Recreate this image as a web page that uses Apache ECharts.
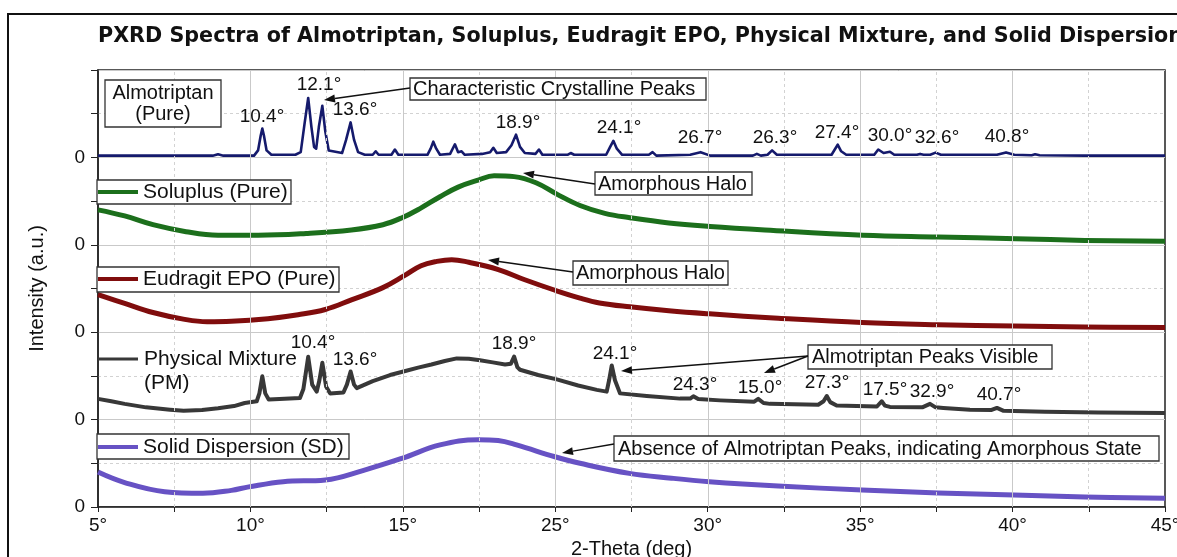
<!DOCTYPE html>
<html>
<head>
<meta charset="utf-8">
<script src="https://cdn.jsdelivr.net/npm/echarts@6/dist/echarts.min.js"></script>
<style>
  html, body { margin: 0; padding: 0; background: #fff; }
  #chart { width: 1177px; height: 557px; }
</style>
</head>
<body>
<div id="chart"></div>
<script>
// tick labels of the 2-theta axis, as printed on the figure (8 ticks, 7 steps)
const xTickLabels = ['5°', '10°', '15°', '25°', '30°', '35°', '40°', '45°'];

// traces: [2-theta, intensity inside its own panel]
const almotriptan = [
  [5, 0.02], [7, 0.02], [9.3, 0.02], [9.5, 0.035], [9.7, 0.02],
  [10.85, 0.02], [11.0, 0.08], [11.1, 0.25], [11.16, 0.33], [11.22, 0.25], [11.32, 0.08], [11.5, 0.03],
  [12.4, 0.03], [12.6, 0.06], [12.75, 0.4], [12.88, 0.68], [13.0, 0.35], [13.1, 0.12], [13.18, 0.1],
  [13.28, 0.35], [13.41, 0.59], [13.52, 0.3], [13.65, 0.08],
  [14.15, 0.05], [14.3, 0.2], [14.47, 0.4], [14.6, 0.2], [14.75, 0.06], [15.0, 0.03],
  [15.3, 0.03], [15.41, 0.07], [15.52, 0.03],
  [16.0, 0.03], [16.13, 0.09], [16.26, 0.03],
  [17.35, 0.03], [17.47, 0.1], [17.57, 0.18], [17.68, 0.1], [17.82, 0.03],
  [18.2, 0.04], [18.38, 0.15], [18.5, 0.06], [18.63, 0.07], [18.75, 0.03],
  [19.4, 0.04], [19.7, 0.06], [19.82, 0.11], [19.95, 0.05], [20.3, 0.06], [20.5, 0.14],
  [20.67, 0.26], [20.82, 0.12], [21.0, 0.05],
  [21.4, 0.04], [21.53, 0.09], [21.66, 0.03],
  [22.6, 0.03], [22.72, 0.05], [22.85, 0.03],
  [24.05, 0.03], [24.2, 0.12], [24.32, 0.19], [24.45, 0.1], [24.65, 0.03],
  [25.65, 0.03], [25.79, 0.06], [25.93, 0.02],
  [27.2, 0.03], [27.59, 0.06], [27.95, 0.02],
  [29.55, 0.02], [29.7, 0.04], [29.85, 0.02],
  [30.1, 0.03], [30.27, 0.08], [30.45, 0.03],
  [32.5, 0.03], [32.62, 0.09], [32.73, 0.145], [32.86, 0.07], [33.05, 0.03],
  [34.1, 0.03], [34.25, 0.09], [34.45, 0.05], [34.69, 0.065], [34.85, 0.03],
  [35.7, 0.03], [35.82, 0.04], [35.95, 0.03],
  [36.2, 0.03], [36.4, 0.055], [36.6, 0.03],
  [38.7, 0.03], [39.04, 0.057], [39.35, 0.03],
  [40.0, 0.025], [40.13, 0.035], [40.3, 0.025],
  [42, 0.02], [45, 0.02]
];

const soluplus = [
  [5, 0.40], [6, 0.33], [7.06, 0.23], [8.3, 0.15], [9.5, 0.11], [11, 0.11], [12.8, 0.13],
  [14.5, 0.17], [15.68, 0.23], [16.4, 0.31], [17.1, 0.42], [17.82, 0.55], [18.5, 0.66],
  [19.25, 0.74], [19.85, 0.79], [20.6, 0.78], [21.42, 0.71], [22.2, 0.58], [23.07, 0.45],
  [24.0, 0.36], [24.94, 0.31], [26.4, 0.25], [27.94, 0.21], [30, 0.17], [33.68, 0.11],
  [36.5, 0.09], [39.41, 0.07], [42, 0.05], [45, 0.04]
];

const eudragit = [
  [5, 0.43], [6, 0.33], [7.06, 0.225], [8.2, 0.15], [9.09, 0.12], [10, 0.125], [11.37, 0.155],
  [12.5, 0.2], [13.52, 0.26], [14.5, 0.37], [15.68, 0.51], [16.5, 0.65], [17.11, 0.76],
  [17.7, 0.81], [18.26, 0.83], [18.9, 0.80], [19.98, 0.72], [21, 0.60], [22.13, 0.48],
  [23.07, 0.39], [23.8, 0.335], [24.94, 0.29], [26.4, 0.245], [27.92, 0.21], [30.5, 0.16],
  [33.64, 0.11], [36.5, 0.085], [39.34, 0.07], [42, 0.06], [45, 0.054]
];

const physicalMixture = [
  [5, 0.237], [5.5, 0.21], [6, 0.18], [6.8, 0.14], [7.7, 0.114], [8.21, 0.10], [8.9, 0.11],
  [9.5, 0.13], [10.1, 0.155], [10.5, 0.19], [10.95, 0.21], [11.05, 0.3], [11.16, 0.495],
  [11.27, 0.3], [11.4, 0.23], [11.8, 0.235], [12.57, 0.248], [12.7, 0.35], [12.88, 0.72],
  [13.03, 0.4], [13.2, 0.32], [13.3, 0.45], [13.41, 0.65], [13.55, 0.38], [13.7, 0.30],
  [14.2, 0.31], [14.33, 0.4], [14.47, 0.55], [14.6, 0.4], [14.7, 0.36], [15.3, 0.44],
  [15.95, 0.51], [16.45, 0.55], [17.0, 0.595], [17.5, 0.63], [18.0, 0.67], [18.45, 0.70],
  [18.9, 0.695], [19.32, 0.68], [19.8, 0.655], [20.26, 0.63], [20.48, 0.64], [20.6, 0.72],
  [20.72, 0.6], [20.82, 0.57], [21.5, 0.51], [22.2, 0.46], [23.0, 0.39], [23.7, 0.34],
  [24.07, 0.32], [24.16, 0.45], [24.26, 0.62], [24.38, 0.45], [24.57, 0.30], [25.57, 0.27],
  [26.82, 0.24], [27.2, 0.24], [27.32, 0.267], [27.5, 0.235], [28.32, 0.22], [29.6, 0.205],
  [29.75, 0.237], [29.95, 0.19], [30.19, 0.18], [32.0, 0.17], [32.2, 0.21], [32.32, 0.27],
  [32.45, 0.2], [32.69, 0.16], [34.2, 0.15], [34.38, 0.21], [34.5, 0.16], [34.69, 0.145],
  [35.9, 0.14], [36.19, 0.18], [36.4, 0.14], [36.69, 0.134], [37.69, 0.114], [38.5, 0.11],
  [38.7, 0.134], [38.95, 0.10], [40.5, 0.09], [42.5, 0.08], [45, 0.076]
];

const solidDispersion = [
  [5, 0.40], [6, 0.28], [7.5, 0.175], [8.93, 0.157], [10.0, 0.19], [10.65, 0.23], [11.94, 0.29],
  [13.52, 0.31], [14.96, 0.42], [16.39, 0.556], [17.82, 0.71], [19.25, 0.77], [20.0, 0.76],
  [20.69, 0.71], [22.13, 0.575], [23.07, 0.50], [24.92, 0.385], [26.5, 0.33], [27.92, 0.29],
  [30.5, 0.24], [33.64, 0.195], [36.5, 0.16], [39.34, 0.137], [42, 0.115], [45, 0.10]
];

// peak annotations, top panel and PM panel
const almoPeakLabels = ['10.4°', '12.1°', '13.6°', '18.9°', '24.1°', '26.7°', '26.3°', '27.4°', '30.0°', '32.6°', '40.8°'];
const pmPeakLabels = ['10.4°', '13.6°', '18.9°', '24.1°', '24.3°', '15.0°', '27.3°', '17.5°', '32.9°', '40.7°'];

const xMin = 5, xMax = 45;
const xTickValues = xTickLabels.map((_, i) => xMin + i * (xMax - xMin) / (xTickLabels.length - 1));
const xMidValues = xTickValues.slice(0, -1).map((v, i) => (v + xTickValues[i + 1]) / 2);

const panels = [
  { data: almotriptan, color: '#151a6c', width: 2.6, smooth: false },
  { data: soluplus, color: '#1c6f1c', width: 5, smooth: 0.4 },
  { data: eudragit, color: '#800d0d', width: 5, smooth: 0.4 },
  { data: physicalMixture, color: '#383838', width: 4, smooth: false },
  { data: solidDispersion, color: '#6752c4', width: 5, smooth: 0.4 }
];

const FONT = '"Liberation Sans", Arial, sans-serif';

function arrow(x1, y1, x2, y2) {
  const a = Math.atan2(y2 - y1, x2 - x1);
  const len = 11, half = 4;
  const bx = x2 - len * Math.cos(a), by = y2 - len * Math.sin(a);
  return [
    { type: 'line', z: 100, shape: { x1: x1, y1: y1, x2: bx, y2: by }, style: { stroke: '#111', lineWidth: 1.5 } },
    { type: 'polygon', z: 100, shape: { points: [[x2, y2], [bx + half * Math.sin(a), by - half * Math.cos(a)], [bx - half * Math.sin(a), by + half * Math.cos(a)]] }, style: { fill: '#111' } }
  ];
}
function box(x, y, w, h) {
  return { type: 'rect', z: 99, shape: { x: x, y: y, width: w, height: h }, style: { fill: '#fff', stroke: '#333', lineWidth: 1.3 } };
}
function txt(text, x, y, size, align) {
  return { type: 'text', z: 101, style: { text: text, x: x, y: y, font: size + 'px ' + FONT, fill: '#111', align: align || 'left', verticalAlign: 'middle' } };
}
function legendLine(y, color, w) {
  return { type: 'line', z: 101, shape: { x1: 98, y1: y, x2: 138, y2: y }, style: { stroke: color, lineWidth: w } };
}

const almoLabelPos = [[262, 117], [319, 85], [355, 110], [518, 123], [619, 128], [700, 138], [775, 138], [837, 133], [890, 136], [937, 138], [1007, 137]];
const pmLabelPos = [[313, 343], [355, 360], [514, 344], [615, 354], [695, 385], [760, 388], [827, 383], [885, 390], [932, 392], [999, 395]];

const graphics = [
  { type: 'rect', z: 100, shape: { x: 8, y: 14, width: 1200, height: 600 }, style: { fill: 'none', stroke: '#111', lineWidth: 2 } },
  box(105, 80, 116, 47), txt('Almotriptan', 163, 93, 20, 'center'), txt('(Pure)', 163, 114, 20, 'center'),
  box(410, 78, 296, 22), txt('Characteristic Crystalline Peaks', 413, 89, 20),
  ...arrow(410, 88, 324, 100),
  box(97, 180, 194, 24), legendLine(192, panels[1].color, 4), txt('Soluplus (Pure)', 143, 192, 21),
  box(595, 172, 157, 23), txt('Amorphous Halo', 598, 184, 20),
  ...arrow(595, 184, 523, 173),
  box(97, 267, 242, 25), legendLine(279, panels[2].color, 4), txt('Eudragit EPO (Pure)', 143, 279, 21),
  box(573, 261, 155, 24), txt('Amorphous Halo', 576, 273, 20),
  ...arrow(573, 272, 488, 260),
  legendLine(359, panels[3].color, 3), txt('Physical Mixture', 144, 359, 21), txt('(PM)', 144, 383, 21),
  box(808, 345, 244, 24), txt('Almotriptan Peaks Visible', 812, 357, 20),
  ...arrow(808, 356, 621, 371),
  ...arrow(808, 356, 764, 373),
  box(97, 434, 252, 25), legendLine(447, panels[4].color, 4), txt('Solid Dispersion (SD)', 143, 447, 21),
  box(614, 436, 545, 25), txt('Absence of Almotriptan Peaks, indicating Amorphous State', 618, 449, 20),
  ...arrow(614, 444, 562, 453)
];
almoPeakLabels.forEach((t, i) => graphics.push(txt(t, almoLabelPos[i][0], almoLabelPos[i][1], 19, 'center')));
pmPeakLabels.forEach((t, i) => graphics.push(txt(t, pmLabelPos[i][0], pmLabelPos[i][1], 19, 'center')));

const gridSolid = { color: '#c9c9c9', width: 1, type: 'solid' };
const gridDash = { color: '#d2d2d2', width: 1, type: [3, 3] };

const series = panels.map((p, i) => ({
  type: 'line',
  data: p.data.map(d => [d[0], d[1] + (panels.length - 1 - i)]),
  showSymbol: false,
  smooth: p.smooth,
  lineStyle: { color: p.color, width: p.width, join: 'round' },
  z: 3,
  silent: true
}));
series.push({
  type: 'line',
  data: [],
  z: 1,
  silent: true,
  markLine: {
    silent: true,
    symbol: 'none',
    animation: false,
    label: { show: false },
    data: xTickValues.slice(1, -1).map(v => ({ xAxis: v, lineStyle: gridSolid }))
      .concat(xMidValues.map(v => ({ xAxis: v, lineStyle: gridDash })))
  }
});

const chart = echarts.init(document.getElementById('chart'), null, { renderer: 'canvas' });
chart.setOption({
  animation: false,
  backgroundColor: '#fff',
  title: {
    text: 'PXRD Spectra of Almotriptan, Soluplus, Eudragit EPO, Physical Mixture, and Solid Dispersion',
    left: 93, top: 21,
    textStyle: { fontFamily: '"DejaVu Sans", sans-serif', fontWeight: 'bold', fontSize: 20.7, color: '#111' }
  },
  grid: {
    left: 98, right: 12, top: 70, bottom: 50, outerBoundsMode: 'none', containLabel: false,
    show: true, borderColor: '#222', borderWidth: 1.5, backgroundColor: 'transparent'
  },
  xAxis: {
    type: 'value', min: xMin, max: xMax,
    name: '2-Theta (deg)', nameLocation: 'middle', nameGap: 31,
    nameTextStyle: { fontFamily: FONT, fontSize: 20, color: '#111' },
    axisLine: { lineStyle: { color: '#222', width: 1.5 } },
    axisTick: { show: true, customValues: xTickValues.concat(xMidValues), length: 5, lineStyle: { color: '#222' } },
    axisLabel: {
      customValues: xTickValues, margin: 9, fontFamily: FONT, fontSize: 19, color: '#111',
      formatter: v => {
        const i = xTickValues.findIndex(t => Math.abs(t - v) < 1e-6);
        return i >= 0 ? xTickLabels[i] : '';
      }
    },
    splitLine: { show: false }
  },
  yAxis: {
    type: 'value', min: 0, max: 5, interval: 1,
    name: 'Intensity (a.u.)', nameLocation: 'middle', nameGap: 51,
    nameTextStyle: { fontFamily: FONT, fontSize: 20, color: '#111' },
    axisLine: { show: true, lineStyle: { color: '#222', width: 1.5 } },
    axisTick: { show: true, length: 7, lineStyle: { color: '#222' } },
    minorTick: { show: true, splitNumber: 2, length: 7, lineStyle: { color: '#222' } },
    axisLabel: { margin: 13, fontFamily: FONT, fontSize: 19, color: '#111', formatter: v => (v < 5 ? '0' : '') },
    splitLine: { show: true, lineStyle: gridSolid },
    minorSplitLine: { show: true, lineStyle: gridDash }
  },
  series: series,
  graphic: { elements: graphics }
});
</script>
</body>
</html>
